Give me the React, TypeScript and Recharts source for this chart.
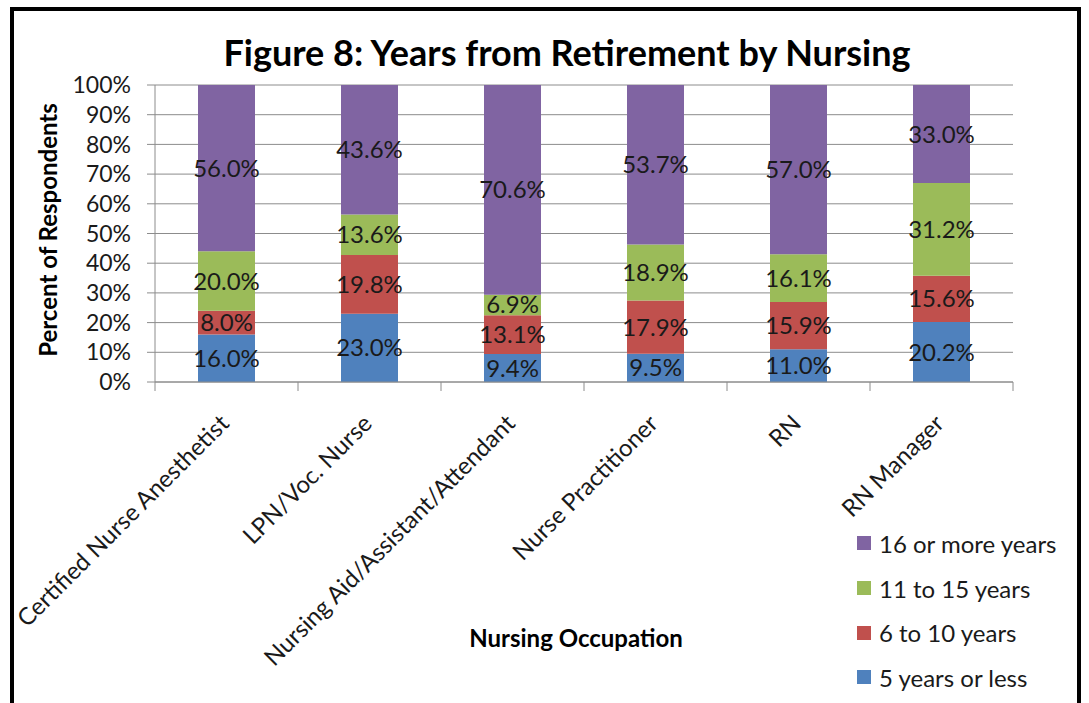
import { BarChart, Bar, XAxis, YAxis, CartesianGrid, LabelList } from 'recharts';

// Values (percent of respondents)
const categories = [
  'Certified Nurse Anesthetist',
  'LPN/Voc. Nurse',
  'Nursing Aid/Assistant/Attendant',
  'Nurse Practitioner',
  'RN',
  'RN Manager',
];
const fiveOrLess = [16.0, 23.0, 9.4, 9.5, 11.0, 20.2];
const sixToTen = [8.0, 19.8, 13.1, 17.9, 15.9, 15.6];
const elevenToFifteen = [20.0, 13.6, 6.9, 18.9, 16.1, 31.2];
const sixteenPlus = [56.0, 43.6, 70.6, 53.7, 57.0, 33.0];
const yTicks = [0, 10, 20, 30, 40, 50, 60, 70, 80, 90, 100];

const series = [
  { key: 'a', name: '5 years or less', values: fiveOrLess, color: '#4F81BD' },
  { key: 'b', name: '6 to 10 years', values: sixToTen, color: '#C0504D' },
  { key: 'c', name: '11 to 15 years', values: elevenToFifteen, color: '#9BBB59' },
  { key: 'd', name: '16 or more years', values: sixteenPlus, color: '#8064A2' },
];

const data = categories.map((name, i) => {
  const row: Record<string, string | number> = { name };
  series.forEach((s) => {
    row[s.key] = s.values[i];
  });
  return row;
});

const W = 1089;
const H = 703;
const margin = { top: 85, right: 76, bottom: 21, left: 0 };
const yAxisWidth = 155;
const band = (W - margin.left - margin.right - yAxisWidth) / categories.length;
const font = 'Lato, "Open Sans", sans-serif';
const textColor = '#1a1a1a';
const axisColor = '#8c8c8c';

const CategoryTick = (props: any) => {
  const { x, y, payload, index } = props;
  const ax = x + 4;
  const ay = y + 43;
  const last = index === categories.length - 1;
  return (
    <g>
      <line x1={x - band / 2} y1={y} x2={x - band / 2} y2={y + 9} stroke={axisColor} />
      {last && <line x1={x + band / 2} y1={y} x2={x + band / 2} y2={y + 9} stroke={axisColor} />}
      <text
        x={ax}
        y={ay}
        textAnchor="end"
        fontSize={24}
        fontFamily={font}
        fill={textColor}
        transform={`rotate(-45, ${ax}, ${ay})`}
      >
        {payload.value}
      </text>
    </g>
  );
};

// legend lists the top segment first, like the original
const ChartLegend = () => (
  <div style={{ position: 'absolute', left: 857, top: 521, fontFamily: font, fontSize: 24, color: textColor }}>
    {[...series].reverse().map((s) => (
      <div key={s.key} style={{ display: 'flex', alignItems: 'center', height: 44.7, whiteSpace: 'nowrap' }}>
        <span style={{ width: 14, height: 14, background: s.color, marginRight: 8, display: 'inline-block' }} />
        <span>{s.name}</span>
      </div>
    ))}
  </div>
);

export default function App() {
  return (
    <div style={{ position: 'absolute', left: 0, top: 0, width: W, height: H, background: '#fff', overflow: 'hidden' }}>
      <div
        style={{
          position: 'absolute',
          left: 10,
          top: 7,
          width: 1071,
          height: 720,
          border: '4px solid #000',
          boxSizing: 'border-box',
        }}
      />
      <div
        style={{
          position: 'absolute',
          left: 567,
          top: 52,
          transform: 'translate(-50%, -50%)',
          whiteSpace: 'nowrap',
          fontFamily: font,
          fontWeight: 700,
          fontSize: 36,
          color: '#000',
        }}
      >
        Figure 8: Years from Retirement by Nursing
      </div>
      <div
        style={{
          position: 'absolute',
          left: 47,
          top: 230,
          transform: 'translate(-50%, -50%) rotate(-90deg)',
          whiteSpace: 'nowrap',
          fontFamily: font,
          fontWeight: 700,
          fontSize: 24,
          color: '#000',
        }}
      >
        Percent of Respondents
      </div>
      <div
        style={{
          position: 'absolute',
          left: 576,
          top: 637,
          transform: 'translate(-50%, -50%)',
          whiteSpace: 'nowrap',
          fontFamily: font,
          fontWeight: 700,
          fontSize: 24,
          color: '#000',
        }}
      >
        Nursing Occupation
      </div>
      <div style={{ position: 'absolute', left: 0, top: 0 }}>
        <BarChart width={W} height={H} data={data} margin={margin} barSize={57}>
          <CartesianGrid vertical={false} stroke={axisColor} />
          <XAxis
            dataKey="name"
            height={300}
            interval={0}
            tickLine={false}
            tickSize={0}
            tickMargin={0}
            stroke={axisColor}
            tick={<CategoryTick />}
          />
          <YAxis
            width={yAxisWidth}
            domain={[0, 100]}
            ticks={yTicks}
            interval={0}
            tickFormatter={(v: number) => `${v}%`}
            tickSize={8}
            tickMargin={16}
            stroke={axisColor}
            tick={{ fill: textColor, fontSize: 23, fontFamily: font }}
          />
          {series.map((s) => (
            <Bar key={s.key} dataKey={s.key} name={s.name} stackId="all" fill={s.color} isAnimationActive={false}>
              <LabelList
                dataKey={s.key}
                position="center"
                formatter={(v: any) => `${Number(v).toFixed(1)}%`}
                fill={textColor}
                fontSize={24}
                fontFamily={font}
              />
            </Bar>
          ))}
        </BarChart>
      </div>
      <ChartLegend />
    </div>
  );
}
